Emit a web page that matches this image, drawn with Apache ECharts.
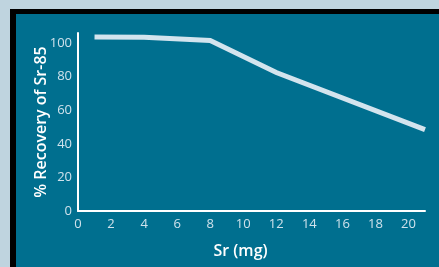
<!DOCTYPE html>
<html><head><meta charset="utf-8">
<script src="https://cdn.jsdelivr.net/npm/echarts@6/dist/echarts.min.js"></script>
<style>
html,body{margin:0;padding:0;width:439px;height:267px;overflow:hidden;background:#bfd4df;}
#frame{position:absolute;left:10px;top:9px;width:429px;height:258px;background:#006f8f;border-left:6px solid #000;border-top:5px solid #000;box-sizing:border-box;}
#chart{position:absolute;left:0;top:0;width:439px;height:267px;}
</style></head>
<body><div id="frame"></div><div id="chart"></div>
<script>
var srMg = [1, 4, 8, 12, 21];
var recovery = [103.6, 103.4, 101.5, 82.5, 48.5];
var xTicks = [0, 2, 4, 6, 8, 10, 12, 14, 16, 18, 20];
var yTicks = [0, 20, 40, 60, 80, 100];
var xTitle = 'Sr (mg)';
var yTitle = '% Recovery of Sr-85';

var chart = echarts.init(document.getElementById('chart'), null, {renderer:'canvas'});
var font = '"Open Sans", sans-serif';
chart.setOption({
  backgroundColor: 'transparent',
  animation: false,
  grid: {left: 78, right: 14, top: 33, bottom: 56},
  xAxis: {
    type: 'value', min: 0, max: 21, interval: 2,
    name: xTitle, nameLocation: 'middle', nameGap: 32, nameMoveOverlap: false,
    nameTextStyle: {color: '#ffffff', fontSize: 16, fontFamily: font, fontWeight: 600, padding: [0, 22, 0, 0]},
    axisLine: {show: true, lineStyle: {color: '#ffffff', width: 2}},
    axisTick: {show: false},
    splitLine: {show: false},
    axisLabel: {color: '#cfe2ec', fontSize: 13, fontFamily: font, margin: 7, showMaxLabel: false,
      formatter: function(v){ return xTicks.indexOf(v) >= 0 ? String(v) : ''; }}
  },
  yAxis: {
    type: 'value', min: 0, max: 106, interval: 20,
    name: yTitle, nameLocation: 'middle', nameGap: 29, nameRotate: 90, nameMoveOverlap: false,
    nameTextStyle: {color: '#ffffff', fontSize: 16, fontFamily: font, fontWeight: 600},
    axisLine: {show: true, lineStyle: {color: '#ffffff', width: 2}},
    axisTick: {show: false},
    splitLine: {show: false},
    axisLabel: {color: '#cfe2ec', fontSize: 13, fontFamily: font, margin: 6, showMaxLabel: false,
      formatter: function(v){ return yTicks.indexOf(v) >= 0 ? String(v) : ''; }}
  },
  series: [{
    type: 'line', data: srMg.map(function(x, i){ return [x, recovery[i]]; }),
    symbol: 'none', lineStyle: {color: '#d3e4ee', width: 5, cap: 'butt', join: 'miter'}
  }]
});
</script></body></html>
